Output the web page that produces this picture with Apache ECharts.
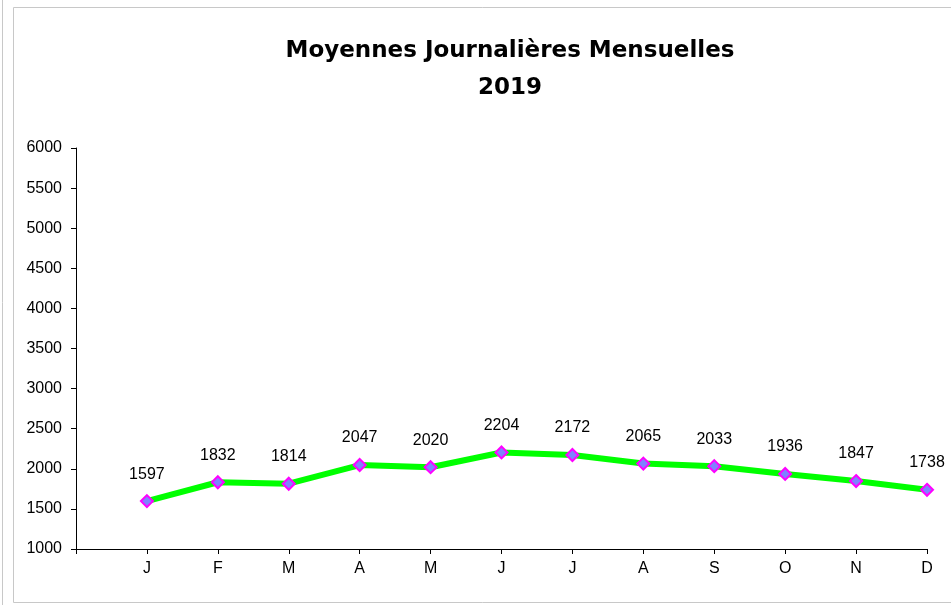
<!DOCTYPE html>
<html>
<head>
<meta charset="utf-8">
<script src="https://cdn.jsdelivr.net/npm/echarts@6/dist/echarts.min.js"></script>
<style>
	html, body { margin: 0; padding: 0; background: #fff; }
	#chart { width: 951px; height: 605px; }
</style>
</head>
<body>
<div id="chart"></div>
<script>
// mois (la première case vide sert de décalage comme dans l'original)
var months = ['', 'J', 'F', 'M', 'A', 'M', 'J', 'J', 'A', 'S', 'O', 'N', 'D'];
// moyennes journalières
var values = ['-', 1597, 1832, 1814, 2047, 2020, 2204, 2172, 2065, 2033, 1936, 1847, 1738];
var yMin = 1000;
var yMax = 6000;
var yStep = 500;

var chart = echarts.init(document.getElementById('chart'));
var option = {
	backgroundColor: '#fff',
	animation: false,
	title: {
		text: 'Moyennes Journalières Mensuelles\n2019',
		left: 505,
		top: 28,
		textAlign: 'center',
		textStyle: {
			fontFamily: 'DejaVu Sans',
			fontWeight: 'bold',
			fontSize: 23,
			lineHeight: 37,
			color: '#000'
		}
	},
	graphic: [
		// cadres gris autour du graphique
		{ type: 'rect', shape: { x: 13.5, y: 7.5, width: 960, height: 595 }, style: { fill: 'none', stroke: '#c8c8c8', lineWidth: 1 } },
		{ type: 'line', shape: { x1: 2.5, y1: 0, x2: 2.5, y2: 605 }, style: { stroke: '#c8c8c8', lineWidth: 1 } }
	],
	grid: {
		left: 76,
		right: 24,
		top: 148,
		bottom: 56
	},
	xAxis: {
		type: 'category',
		data: months,
		boundaryGap: false,
		axisLine: { lineStyle: { color: '#000', width: 1 } },
		axisTick: { show: true, length: 5, alignWithLabel: true, lineStyle: { color: '#000' } },
		axisLabel: { color: '#000', fontSize: 16, fontFamily: 'Liberation Sans', margin: 12, interval: 0 },
		splitLine: { show: false }
	},
	yAxis: {
		type: 'value',
		min: yMin,
		max: yMax,
		interval: yStep,
		axisLine: { show: true, lineStyle: { color: '#000', width: 1 } },
		axisTick: { show: true, length: 5, lineStyle: { color: '#000' } },
		axisLabel: {
			color: '#000',
			fontSize: 16,
			fontFamily: 'Liberation Sans',
			margin: 14,
			formatter: function (v) { return String(v); }
		},
		splitLine: { show: false }
	},
	series: [{
		type: 'line',
		data: values,
		symbol: 'diamond',
		symbolSize: 12,
		showAllSymbol: true,
		lineStyle: { color: '#00ff00', width: 6 },
		itemStyle: { color: '#8080ff', borderColor: '#ff00ff', borderWidth: 2 },
		label: {
			show: true,
			position: 'top',
			distance: 12,
			color: '#000',
			fontSize: 16,
			fontFamily: 'Liberation Sans'
		}
	}]
};
chart.setOption(option);
</script>
</body>
</html>
